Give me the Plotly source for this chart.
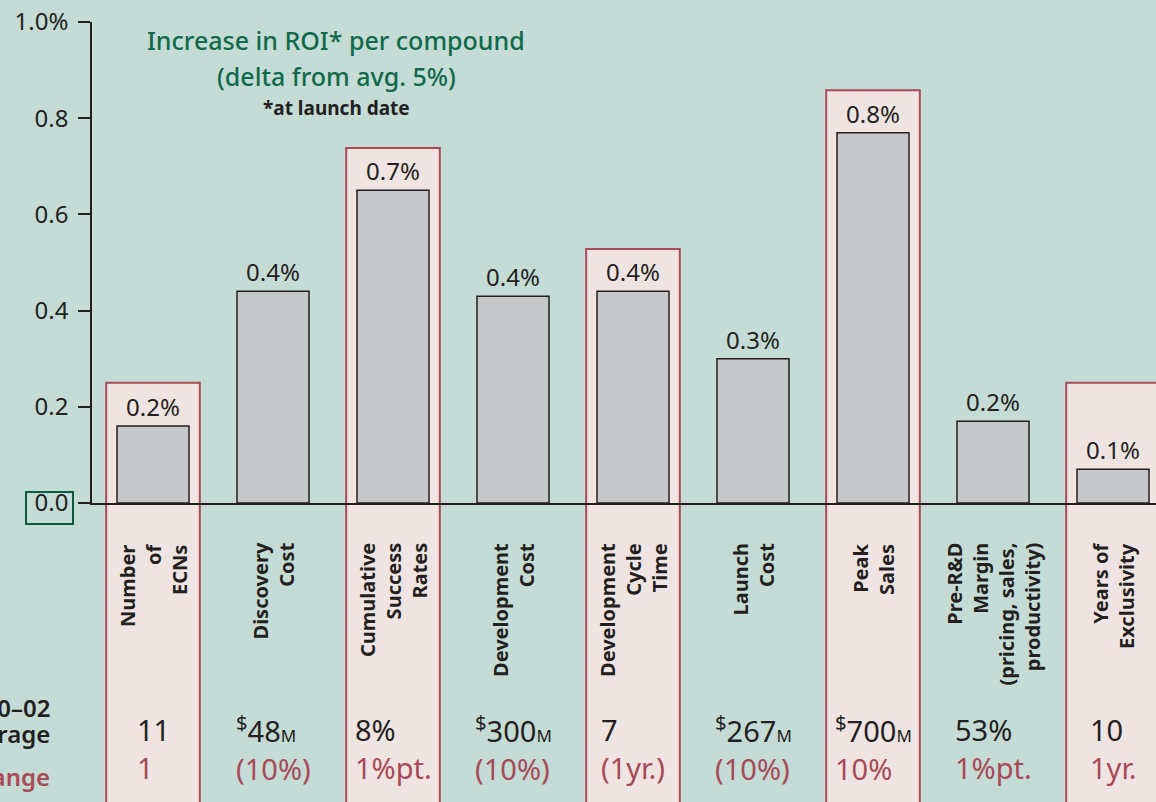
import plotly.graph_objects as go

# ---------------- data ----------------
categories = [
    "Number<br>of<br>ECNs",
    "Discovery<br>Cost",
    "Cumulative<br>Success<br>Rates",
    "Development<br>Cost",
    "Development<br>Cycle<br>Time",
    "Launch<br>Cost",
    "Peak<br>Sales",
    "Pre-R&D<br>Margin<br>(pricing, sales,<br>productivity)",
    "Years of<br>Exclusivity",
]
roi_increase = [0.16, 0.44, 0.65, 0.43, 0.44, 0.30, 0.77, 0.17, 0.07]
roi_labels = ["0.2%", "0.4%", "0.7%", "0.4%", "0.4%", "0.3%", "0.8%", "0.2%", "0.1%"]
highlighted = [True, False, True, False, True, False, True, False, True]

avg_2000_02 = ["11", "<sup>$</sup>48<span style='font-size:17px'>M</span>", "8%",
               "<sup>$</sup>300<span style='font-size:17px'>M</span>", "7",
               "<sup>$</sup>267<span style='font-size:17px'>M</span>",
               "<sup>$</sup>700<span style='font-size:17px'>M</span>", "53%", "10"]
change = ["1", "(10%)", "1%pt.", "(10%)", "(1yr.)", "(10%)", "10%", "1%pt.", "1yr."]

y_tickvals = [0.0, 0.2, 0.4, 0.6, 0.8, 1.0]
y_ticktext = ["0.0", "0.2", "0.4", "0.6", "0.8", "1.0%"]

# ---------------- styles ----------------
BG = "#c5dbd5"
PINK = "#efe4e1"
RED = "#a84a57"
GREEN = "#0f6a4b"
DARK = "#231f20"
BAR = "#c6c7c9"
FONT = "Noto Sans"

W, H = 1156, 802
ML, MR, MT, MB = 92, 0, 22, 299
plot_w = W - ML - MR
plot_h = H - MT - MB
x_first_center = 153
px_per_cat = 120
x0 = -(x_first_center - ML) / px_per_cat
x1 = x0 + plot_w / px_per_cat


def px_x(px):
    return (px - ML) / plot_w


def px_y(py):
    return (H - MB - py) / plot_h


fig = go.Figure()
fig.add_trace(go.Bar(
    x=categories, y=roi_increase, width=0.6,
    marker=dict(color=BAR, line=dict(color=DARK, width=1.5)),
    text=roi_labels, textposition="outside", cliponaxis=False,
    textfont=dict(family=FONT, size=24, color=DARK),
    hoverinfo="skip",
))

shapes = []
for i, hl in enumerate(highlighted):
    if hl:
        top = max(roi_increase[i] + 0.088, 0.25)
        shapes.append(dict(type="rect", xref="x", yref="paper",
                           x0=i - 0.39, x1=i + 0.39, y0=-0.7, y1=top,
                           fillcolor=PINK, line=dict(color=RED, width=2),
                           layer="below"))
# green box around 0.0
shapes.append(dict(type="rect", xref="paper", yref="paper",
                   x0=px_x(26), x1=px_x(73), y0=px_y(524), y1=px_y(492),
                   line=dict(color="#0a5a3c", width=2), fillcolor="rgba(0,0,0,0)"))

annotations = []
# title
annotations.append(dict(text="Increase in ROI* per compound", xref="paper", yref="paper",
                        x=px_x(336), y=px_y(40), showarrow=False, xanchor="center", yanchor="middle",
                        font=dict(family=FONT, size=25, color=GREEN, weight=500)))
annotations.append(dict(text="(delta from avg. 5%)", xref="paper", yref="paper",
                        x=px_x(336), y=px_y(76), showarrow=False, xanchor="center", yanchor="middle",
                        font=dict(family=FONT, size=25, color=GREEN, weight=500)))
annotations.append(dict(text="*at launch date", xref="paper", yref="paper",
                        x=px_x(336), y=px_y(108), showarrow=False, xanchor="center", yanchor="middle",
                        font=dict(family=FONT, size=19, color=DARK, weight="bold")))

# rotated category labels
for i, c in enumerate(categories):
    annotations.append(dict(text=c, xref="x", yref="paper", x=i, y=px_y(541),
                            showarrow=False, textangle=-90, align="right",
                            xanchor="center", yanchor="top",
                            font=dict(family=FONT, size=20, color=DARK, weight="bold")))

# bottom table rows
for i in range(len(categories)):
    txt = f"{avg_2000_02[i]}<br><span style='color:{RED}'>{change[i]}</span>"
    annotations.append(dict(text=txt, xref="x", yref="paper", x=i, y=px_y(748),
                            showarrow=False, align="left", xanchor="center", yanchor="middle",
                            font=dict(family=FONT, size=29, color=DARK)))

# left row labels (cut off at the left edge, as in the original)
annotations.append(dict(text="2000–02", xref="paper", yref="paper", x=px_x(52), y=px_y(707),
                        showarrow=False, xanchor="right", yanchor="middle",
                        font=dict(family=FONT, size=24, color=DARK, weight=600)))
annotations.append(dict(text="Average", xref="paper", yref="paper", x=px_x(52), y=px_y(733),
                        showarrow=False, xanchor="right", yanchor="middle",
                        font=dict(family=FONT, size=24, color=DARK, weight=600)))
annotations.append(dict(text="Change", xref="paper", yref="paper", x=px_x(52), y=px_y(776),
                        showarrow=False, xanchor="right", yanchor="middle",
                        font=dict(family=FONT, size=24, color=RED, weight=600)))

fig.update_layout(
    width=W, height=H,
    margin=dict(l=ML, r=MR, t=MT, b=MB, pad=0),
    paper_bgcolor=BG, plot_bgcolor=BG,
    showlegend=False,
    shapes=shapes, annotations=annotations,
    font=dict(family=FONT, color=DARK),
    xaxis=dict(range=[x0, x1], showticklabels=False, ticks="", showgrid=False,
               zeroline=False, showline=True, linecolor=DARK, linewidth=1.5,
               fixedrange=True),
    yaxis=dict(range=[0, 1], tickvals=y_tickvals, ticktext=y_ticktext,
               ticks="outside", ticklen=12, tickwidth=1.5, tickcolor=DARK,
               ticklabelstandoff=5,
               tickfont=dict(family=FONT, size=24, color=DARK),
               showgrid=False, zeroline=False, showline=True, linecolor=DARK,
               linewidth=1.5, fixedrange=True),
    bargap=0.4,
)

fig.write_html(
    "out.html",
    config={"displayModeBar": False},
    post_script="document.body.style.margin='0';document.body.style.overflow='hidden';"
                "document.documentElement.style.overflow='hidden';",
)
